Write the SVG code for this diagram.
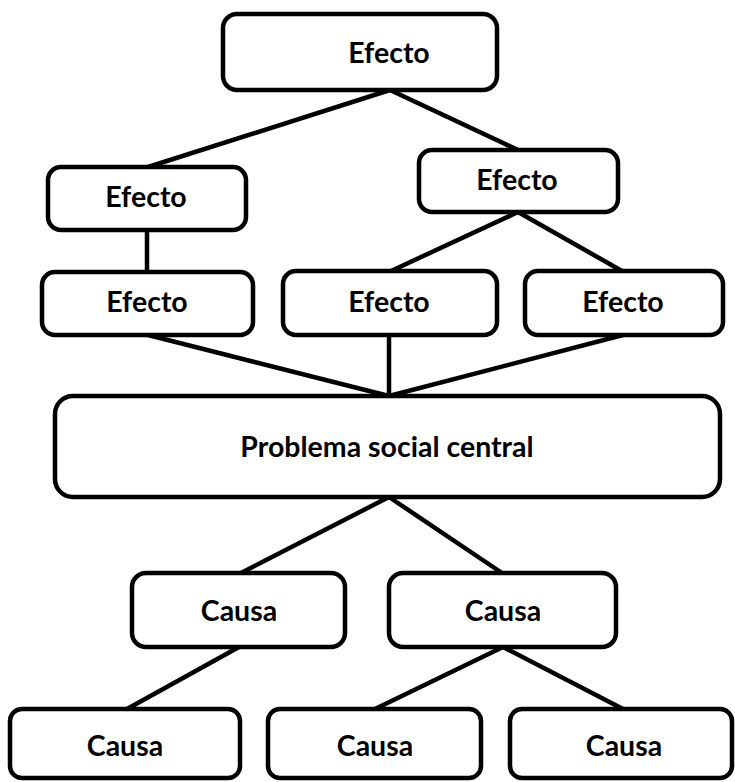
<svg xmlns="http://www.w3.org/2000/svg" width="735" height="782" viewBox="0 0 735 782">
<style>
.box{fill:#fff;stroke:#000;stroke-width:4.5}
.lbl{font-family:Lato,"Liberation Sans",sans-serif;font-weight:bold;font-size:28.5px;fill:#000;text-anchor:middle}
.con{stroke:#000;stroke-width:4.5;fill:none}
</style>
<rect width="735" height="782" fill="#fff"/>
<g id="connectors">
<line class="con" x1="390" y1="90" x2="148" y2="167"/>
<line class="con" x1="390" y1="90" x2="518" y2="150"/>
<line class="con" x1="147" y1="230" x2="147" y2="272"/>
<line class="con" x1="518" y1="212" x2="391" y2="271"/>
<line class="con" x1="518" y1="212" x2="622" y2="271"/>
<line class="con" x1="148" y1="335" x2="389" y2="396"/>
<line class="con" x1="389" y1="335" x2="389" y2="396"/>
<line class="con" x1="623" y1="335" x2="389" y2="396"/>
<line class="con" x1="389" y1="497" x2="241" y2="573"/>
<line class="con" x1="389" y1="497" x2="502" y2="573"/>
<line class="con" x1="239" y1="647" x2="127" y2="709"/>
<line class="con" x1="503" y1="647" x2="375" y2="709"/>
<line class="con" x1="503" y1="647" x2="623" y2="709"/>
</g>
<g id="efecto-top"><rect class="box" x="223" y="14" width="274" height="76" rx="14"/><text class="lbl" x="389" y="63">Efecto</text></g>
<g id="efecto-l1"><rect class="box" x="48" y="167" width="198" height="63" rx="13"/><text class="lbl" x="146" y="207">Efecto</text></g>
<g id="efecto-r1"><rect class="box" x="419" y="150" width="199" height="62" rx="13"/><text class="lbl" x="517" y="190">Efecto</text></g>
<g id="efecto-l2"><rect class="box" x="42" y="272" width="211" height="63" rx="13"/><text class="lbl" x="147" y="312">Efecto</text></g>
<g id="efecto-m2"><rect class="box" x="283" y="271" width="214" height="64" rx="13"/><text class="lbl" x="389" y="312">Efecto</text></g>
<g id="efecto-r2"><rect class="box" x="525" y="271" width="198" height="64" rx="13"/><text class="lbl" x="623" y="312">Efecto</text></g>
<g id="problema"><rect class="box" x="55" y="396" width="665" height="101" rx="18"/><text class="lbl" x="387" y="457">Problema social central</text></g>
<g id="causa-l1"><rect class="box" x="132" y="573" width="213" height="74" rx="14"/><text class="lbl" x="239" y="621">Causa</text></g>
<g id="causa-r1"><rect class="box" x="389" y="573" width="227" height="74" rx="14"/><text class="lbl" x="503" y="621">Causa</text></g>
<g id="causa-b1"><rect class="box" x="10" y="709" width="230" height="69" rx="12"/><text class="lbl" x="125" y="756">Causa</text></g>
<g id="causa-b2"><rect class="box" x="268" y="709" width="213" height="69" rx="12"/><text class="lbl" x="375" y="756">Causa</text></g>
<g id="causa-b3"><rect class="box" x="510" y="709" width="222" height="69" rx="12"/><text class="lbl" x="624" y="756">Causa</text></g>
</svg>
